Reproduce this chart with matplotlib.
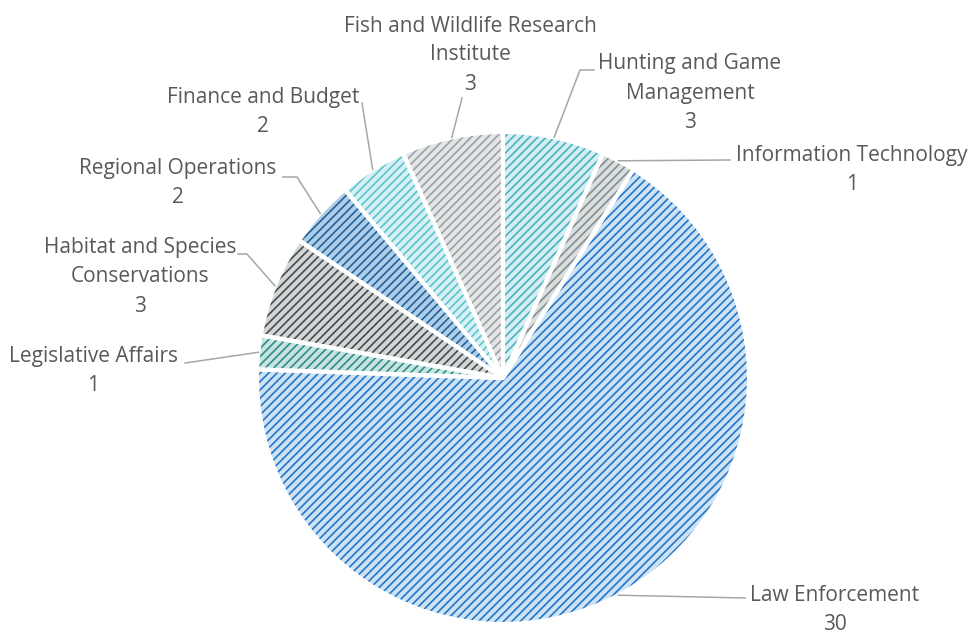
import numpy as np
import matplotlib
matplotlib.use("Agg")
import matplotlib.pyplot as plt

# slice data, clockwise from 12 o'clock
labels = ["Hunting and Game\nManagement", "Information Technology", "Law Enforcement",
          "Legislative Affairs", "Habitat and Species\nConservations", "Regional Operations",
          "Finance and Budget", "Fish and Wildlife Research\nInstitute"]
values = [3, 1, 30, 1, 3, 2, 2, 3]

# hatch (line) colours and background fill colours
line_colors = ["#4ab3bf", "#848e8f", "#2676c4", "#2f8c86", "#464c4e", "#22629a", "#5cc3ce", "#9aa1a3"]
fill_colors = ["#d5eef1", "#d9dede", "#cde3f5", "#c7e4e1", "#d2d6d7", "#aecee8", "#d6f0f3", "#e3e6e6"]

# label block centres (pixel coords from top-left) and leader elbows
label_pos = [(690, 93), (852, 170), (835, 610), (93, 371), (140, 277), (178, 183), (263, 112), (470, 55)]
elbows = [[(580, 70), (594, 70)], [(730, 160)], [(745, 598)], [(185, 363)],
          [(247, 254), (238, 254)], [(297, 177), (283, 177)], [(362, 103)], [(462, 98)]]

W, H = 971, 640
plt.rcParams["hatch.linewidth"] = 1.2
fig = plt.figure(figsize=(W / 100, H / 100), dpi=100)
ax = fig.add_axes([0, 0, 1, 1])

cx, cy, r = 503, H - 378, 246

wedges, _ = ax.pie(values, colors=fill_colors, startangle=90, counterclock=False,
                   center=(cx, cy), radius=r, frame=True,
                   wedgeprops=dict(linewidth=0, hatch="////"))
for w, lc in zip(wedges, line_colors):
    w.set_edgecolor(lc)

# white separators on top
ax.pie(values, colors=["none"] * len(values), startangle=90, counterclock=False,
       center=(cx, cy), radius=r, frame=True,
       wedgeprops=dict(linewidth=3, edgecolor="white", fill=False))
ax.set_xlim(0, W)
ax.set_ylim(0, H)
ax.set_aspect("equal")
ax.axis("off")

txt = "#595959"
for w, lab, v, (lx, ly), el in zip(wedges, labels, values, label_pos, elbows):
    ang = np.deg2rad((w.theta1 + w.theta2) / 2)
    px, py = cx + r * np.cos(ang), cy + r * np.sin(ang)
    xs = [px] + [e[0] for e in el]
    ys = [py] + [H - e[1] for e in el]
    ax.plot(xs, ys, color="#a6a6a6", lw=1.1)
    ax.text(lx, H - ly, f"{lab}\n{v}", ha="center", va="center", fontsize=15,
            family="Open Sans", color=txt, linespacing=1.5)

fig.savefig("out.png", dpi=100)
